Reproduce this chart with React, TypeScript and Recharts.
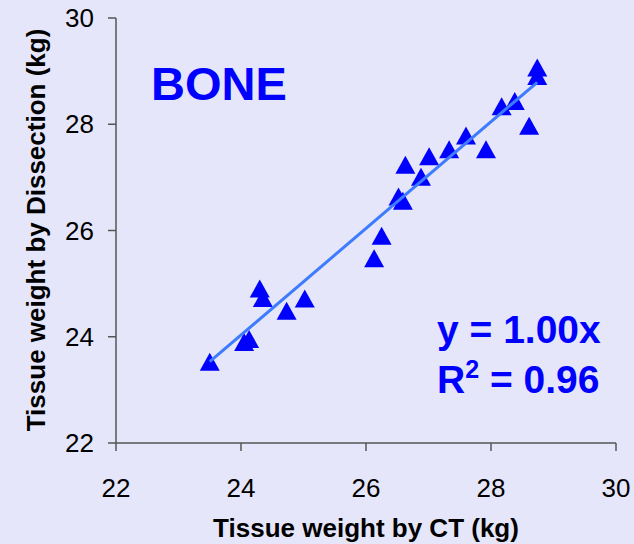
import React from "react";
import { ScatterChart, Scatter, XAxis, YAxis } from "recharts";

// Tissue weight by CT (kg)
const ctWeight = [23.5, 24.05, 24.13, 24.3, 24.35, 24.73, 25.02, 26.13, 26.25, 26.52, 26.59, 26.63, 26.88, 27.01, 27.33, 27.6, 27.92, 28.17, 28.38, 28.61, 28.74, 28.74];
// Tissue weight by Dissection (kg)
const dissectionWeight = [23.53, 23.9, 23.96, 24.91, 24.73, 24.49, 24.72, 25.48, 25.9, 26.64, 26.56, 27.24, 27.01, 27.4, 27.53, 27.79, 27.53, 28.34, 28.44, 27.97, 29.07, 28.91];
// Trendline end points
const trendX = [23.5, 28.74];
const trendY = [23.53, 28.79];
const axisTicks = [22, 24, 26, 28, 30];

const points = ctWeight.map((x, i) => ({ x, y: dissectionWeight[i] }));
const trend = trendX.map((x, i) => ({ x, y: trendY[i] }));

const BLUE = "#0000FF";
const FONT = "'Liberation Sans', Arial, sans-serif";

const Triangle = (props: any) => {
  const { cx, cy } = props;
  if (cx == null || cy == null) return null;
  const w = 20;
  const h = 18;
  return (
    <polygon
      points={`${cx},${cy - h / 2} ${cx - w / 2},${cy + h / 2} ${cx + w / 2},${cy + h / 2}`}
      fill={BLUE}
    />
  );
};

const NoShape = () => null;

export default function App() {
  return (
    <div
      style={{
        position: "absolute",
        left: 0,
        top: 0,
        width: 634,
        height: 544,
        background: "#E6E6FA",
      }}
    >
      <ScatterChart
        width={634}
        height={544}
        margin={{ top: 18, right: 18, bottom: 0, left: 0 }}
        style={{ fontFamily: FONT }}
      >
        <XAxis
          type="number"
          dataKey="x"
          domain={[22, 30]}
          ticks={axisTicks}
          height={101}
          tickSize={8}
          tickMargin={28}
          axisLine={{ stroke: "#555", strokeWidth: 1.5 }}
          tickLine={{ stroke: "#555", strokeWidth: 1.5 }}
          tick={{ fill: "#000", fontSize: 26, fontFamily: FONT }}
          allowDataOverflow
        />
        <YAxis
          type="number"
          dataKey="y"
          domain={[22, 30]}
          ticks={axisTicks}
          width={116}
          tickSize={8}
          tickMargin={14}
          axisLine={{ stroke: "#555", strokeWidth: 1.5 }}
          tickLine={{ stroke: "#555", strokeWidth: 1.5 }}
          tick={{ fill: "#000", fontSize: 26, fontFamily: FONT }}
          allowDataOverflow
        />
        <Scatter data={points} shape={Triangle} isAnimationActive={false} />
        <Scatter
          data={trend}
          shape={NoShape}
          line={{ stroke: "#3D7BFF", strokeWidth: 3 }}
          isAnimationActive={false}
        />
        <text
          x={366}
          y={537}
          textAnchor="middle"
          fontFamily={FONT}
          fontWeight="bold"
          fontSize={26}
          fill="#000"
        >
          Tissue weight by CT (kg)
        </text>
        <text
          x={45}
          y={230}
          transform="rotate(-90 45 230)"
          textAnchor="middle"
          fontFamily={FONT}
          fontWeight="bold"
          fontSize={26}
          fill="#000"
        >
          Tissue weight by Dissection (kg)
        </text>
        <text x={151} y={100} fontFamily={FONT} fontWeight="bold" fontSize={47} fill={BLUE}>
          BONE
        </text>
        <text x={437} y={343} fontFamily={FONT} fontWeight="bold" fontSize={39} fill={BLUE}>
          y = 1.00x
        </text>
        <text x={437} y={393} fontFamily={FONT} fontWeight="bold" fontSize={39} fill={BLUE}>
          R
          <tspan fontSize={25} dy={-15}>2</tspan>
          <tspan dy={15}> = 0.96</tspan>
        </text>
      </ScatterChart>
    </div>
  );
}
